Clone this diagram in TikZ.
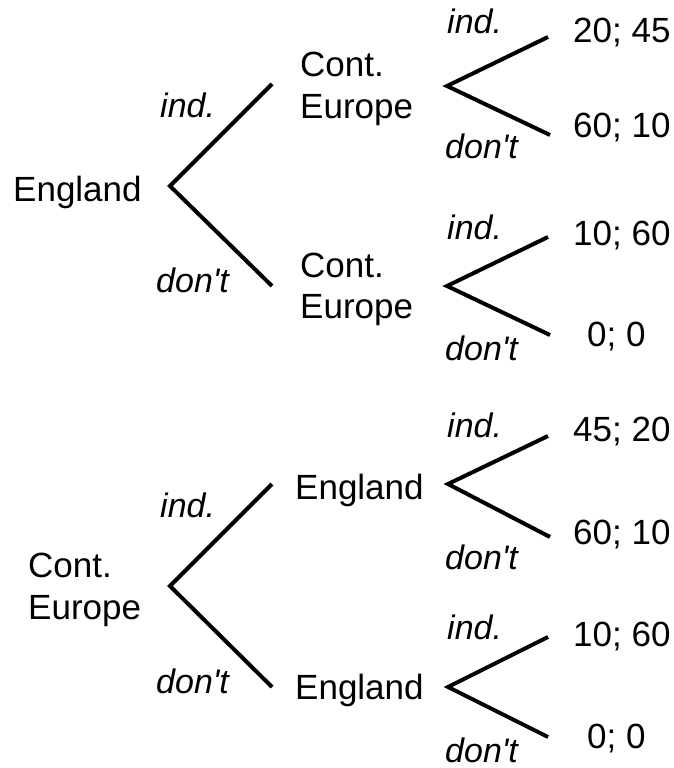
\documentclass[tikz,border=0pt]{standalone}
\usepackage{fontspec}
\setmainfont{Liberation Sans}[Ligatures=TeXOff]
\begin{document}
\begin{tikzpicture}[x=1pt,y=-1pt,
  txt/.style={anchor=base west,inner sep=0pt,font=\fontsize{35}{42}\selectfont},
  lbl/.style={txt,font=\fontsize{34}{41}\selectfont\itshape},
  branch/.style={line width=4pt,line join=miter,line cap=butt}]
\useasboundingbox (0,0) rectangle (674,768);
% ---------- top tree ----------
\node[txt] (e1) at (13,201) {England};
\coordinate (r1) at (170,186);
\coordinate (r1u) at (272,84);
\coordinate (r1d) at (272,286);
\draw[branch] (r1u) -- (r1) -- (r1d);
\node[lbl] (r1i) at (160,117) {ind.};
\node[lbl] (r1n) at (156,292) {don't};
\node[txt] (c1a) at (300,77) {Cont.};
\node[txt] (c1b) at (300,118) {Europe};
\node[txt] (c2a) at (300,277) {Cont.};
\node[txt] (c2b) at (300,318) {Europe};
% sub 1
\coordinate (s1) at (447,86);
\coordinate (s1u) at (548,37);
\coordinate (s1d) at (550,135);
\draw[branch] (s1u) -- (s1) -- (s1d);
\node[lbl] (s1i) at (447,34) {ind.};
\node[lbl] (s1n) at (445,158) {don't};
\node[txt] (p1) at (573,43) {20; 45};
\node[txt] (p2) at (573,137) {60; 10};
% sub 2
\coordinate (s2) at (447,286);
\coordinate (s2u) at (548,237);
\coordinate (s2d) at (550,335);
\draw[branch] (s2u) -- (s2) -- (s2d);
\node[lbl] (s2i) at (447,239) {ind.};
\node[lbl] (s2n) at (445,360) {don't};
\node[txt] (p3) at (573,245) {10; 60};
\node[txt] (p4) at (587,346) {0; 0};
% ---------- bottom tree ----------
\node[txt] (e2a) at (28,577) {Cont.};
\node[txt] (e2b) at (28,619) {Europe};
\coordinate (r2) at (170,586);
\coordinate (r2u) at (272,484);
\coordinate (r2d) at (272,687);
\draw[branch] (r2u) -- (r2) -- (r2d);
\node[lbl] (r2i) at (160,517) {ind.};
\node[lbl] (r2n) at (156,693) {don't};
\node[txt] (g1) at (295,499) {England};
\node[txt] (g2) at (295,699) {England};
% sub 3
\coordinate (s3) at (448,484);
\coordinate (s3u) at (548,436);
\coordinate (s3d) at (550,537);
\draw[branch] (s3u) -- (s3) -- (s3d);
\node[lbl] (s3i) at (447,437) {ind.};
\node[lbl] (s3n) at (445,569) {don't};
\node[txt] (p5) at (573,441) {45; 20};
\node[txt] (p6) at (573,544) {60; 10};
% sub 4
\coordinate (s4) at (448,687);
\coordinate (s4u) at (548,637);
\coordinate (s4d) at (548,737);
\draw[branch] (s4u) -- (s4) -- (s4d);
\node[lbl] (s4i) at (447,639) {ind.};
\node[lbl] (s4n) at (445,762) {don't};
\node[txt] (p7) at (573,646) {10; 60};
\node[txt] (p8) at (587,748) {0; 0};
\end{tikzpicture}
\end{document}
